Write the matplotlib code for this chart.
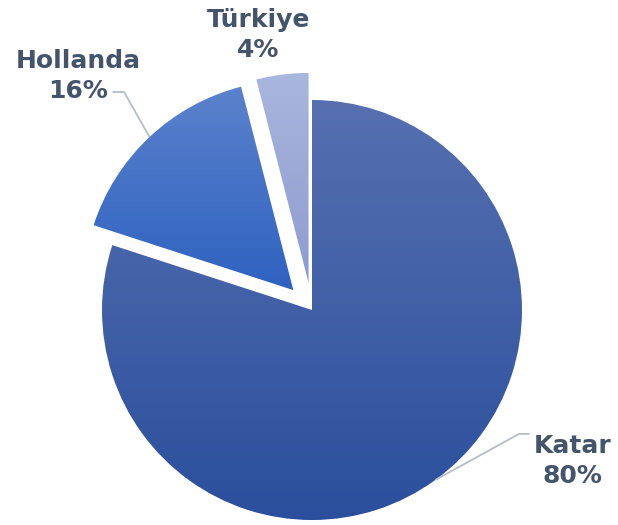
import numpy as np
import matplotlib.pyplot as plt
import matplotlib.colors as mcolors

countries = ['Katar', 'Hollanda', 'Türkiye']
shares = [80, 16, 4]
explode = [0, 0.13, 0.13]
# top / bottom colours of the vertical gradient for each slice
grad_top = ['#5670b0', '#5b82cc', '#a9b6dd']
grad_bottom = ['#2b4f9d', '#2e62c0', '#8e9bd0']
label_color = '#44546a'
leader_color = '#b4bdc9'

fig = plt.figure(figsize=(6.18, 5.25), dpi=100)
ax = fig.add_axes([0, 0, 1, 1])

# axes limits so that the pie (radius 1) sits where it does in the picture
xlim = (-312 / 210, (618 - 312) / 210)
ylim = (-(525 - 310) / 210, 310 / 210)

wedges, _ = ax.pie(shares, explode=explode, startangle=90, counterclock=False,
                   radius=1, wedgeprops=dict(linewidth=0))

grad = np.linspace(1, 0, 256).reshape(-1, 1)
for w, c0, c1 in zip(wedges, grad_top, grad_bottom):
    w.set_facecolor('none')
    cmap = mcolors.LinearSegmentedColormap.from_list('g', [c1, c0])
    bb = w.get_path().get_extents()
    im = ax.imshow(grad, cmap=cmap, extent=[bb.x0, bb.x1, bb.y0, bb.y1],
                   aspect='auto', origin='upper', zorder=1)
    im.set_clip_path(w)

ax.set_xlim(*xlim)
ax.set_ylim(*ylim)
ax.set_aspect('equal')
ax.axis('off')

# labels: (text position, leader corner) in data units
label_pos = [(1.24, -0.72), (-1.114, 1.115), (-0.255, 1.31)]
leader_corner = [(0.986, -0.590), (-0.895, 1.038), None]

for w, name, val, pos, corner in zip(wedges, countries, shares, label_pos, leader_corner):
    ax.text(pos[0], pos[1], f'{name}\n{val}%', ha='center', va='center',
            fontsize=18, fontweight='bold', color=label_color,
            linespacing=1.32, zorder=3)
    if corner is not None:
        mid = np.deg2rad((w.theta1 + w.theta2) / 2)
        cx, cy = w.center
        ex, ey = cx + np.cos(mid), cy + np.sin(mid)
        hx = corner[0] + (-0.055 if corner[0] < 0 else 0.05)
        ax.plot([ex, corner[0], hx], [ey, corner[1], corner[1]],
                color=leader_color, lw=1.3, zorder=2, solid_capstyle='butt')

plt.savefig('out.png', dpi=100)
